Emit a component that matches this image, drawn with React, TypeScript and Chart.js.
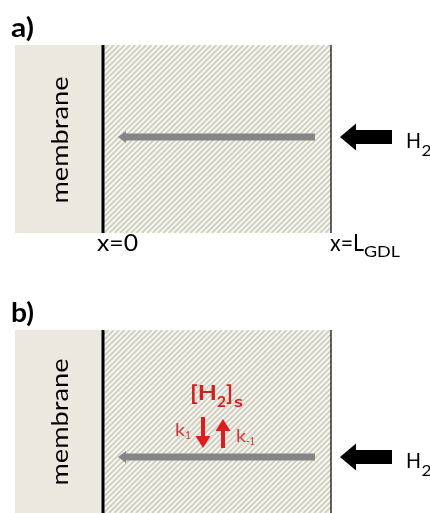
import React, { useEffect, useRef } from "react";
import { Chart, registerables } from "chart.js";

Chart.register(...registerables);

// ---- Diagram values (diagram units = canvas units, y grows downward) ----
const panelLabels = ["a)", "b)"];
const panelLabelY = [37, 322];
const panelTop = [45, 330];
const panelBottom = [233, 513];
const membraneLabelY = [140, 422];
const fluxY = [137, 457];
const membraneX = [15, 103]; // membrane left edge, membrane/GDL interface
const gdlX = [103, 331]; // x = 0, x = L_GDL
const fluxX = [118, 315]; // grey diffusion arrow: tip, tail
const inletX = [340, 392]; // black inlet arrow: tip, tail
const boundaryLabels = ["x=0", "x=L"];
const boundarySub = ["", "GDL"];
const speciesLabel = "H";
const speciesSub = "2";
const surfaceLabel = ["[H", "2", "]", "s"];
const rateLabels = ["k", "1", "k", "-1"];
const rateArrowX = [203, 223]; // forward (down), backward (up)
const rateArrowY = [417, 448]; // top, bottom

const FONT = "Lato, 'Open Sans', sans-serif";

function App() {
  const ref = useRef<HTMLCanvasElement | null>(null);

  useEffect(() => {
    const canvas = ref.current;
    if (!canvas) return;

    const fitText = (
      ctx: CanvasRenderingContext2D,
      text: string,
      x: number,
      y: number,
      targetW: number
    ) => {
      const w = ctx.measureText(text).width;
      const sx = w > 0 ? Math.min(1.4, Math.max(0.7, targetW / w)) : 1;
      ctx.save();
      ctx.translate(x, y);
      ctx.scale(sx, 1);
      ctx.fillText(text, 0, 0);
      ctx.restore();
      return w * sx;
    };

    const backgroundPlugin = {
      id: "diagramBackground",
      beforeDatasetsDraw(chart: any) {
        const { ctx } = chart;
        const sx = chart.scales.x;
        const sy = chart.scales.y;
        for (let p = 0; p < panelTop.length; p++) {
          const top = sy.getPixelForValue(panelTop[p]);
          const bot = sy.getPixelForValue(panelBottom[p]);
          const mx0 = sx.getPixelForValue(membraneX[0]);
          const mx1 = sx.getPixelForValue(membraneX[1]);
          const gx0 = sx.getPixelForValue(gdlX[0]);
          const gx1 = sx.getPixelForValue(gdlX[1]);
          ctx.save();
          ctx.fillStyle = "#ebe8df";
          ctx.fillRect(mx0, top, mx1 - mx0, bot - top);
          ctx.fillStyle = "#f7f6ef";
          ctx.fillRect(gx0, top, gx1 - gx0, bot - top);
          ctx.beginPath();
          ctx.rect(gx0, top, gx1 - gx0, bot - top);
          ctx.clip();
          ctx.strokeStyle = "#cfcec3";
          ctx.lineWidth = 1.8;
          const h = bot - top;
          for (let x = gx0 - h; x < gx1 + 10; x += 5.4) {
            ctx.beginPath();
            ctx.moveTo(x, bot);
            ctx.lineTo(x + h, top);
            ctx.stroke();
          }
          ctx.restore();
        }
      },
      afterDatasetsDraw(chart: any) {
        const { ctx } = chart;
        const sx = chart.scales.x;
        const sy = chart.scales.y;
        ctx.save();
        for (let p = 0; p < panelTop.length; p++) {
          const fy = sy.getPixelForValue(fluxY[p]);
          // grey arrow head
          const tip = sx.getPixelForValue(fluxX[0]);
          ctx.fillStyle = "#858585";
          ctx.beginPath();
          ctx.moveTo(tip, fy);
          ctx.lineTo(tip + 8, fy - 6);
          ctx.lineTo(tip + 8, fy + 6);
          ctx.closePath();
          ctx.fill();

          // black inlet arrow
          const bt = sx.getPixelForValue(inletX[0]);
          const bb = sx.getPixelForValue(inletX[1]);
          const hb = bt + 16;
          ctx.fillStyle = "#000";
          ctx.beginPath();
          ctx.moveTo(bt, fy);
          ctx.lineTo(hb, fy - 13.5);
          ctx.lineTo(hb, fy - 7);
          ctx.lineTo(bb, fy - 7);
          ctx.lineTo(bb, fy + 7);
          ctx.lineTo(hb, fy + 7);
          ctx.lineTo(hb, fy + 13.5);
          ctx.closePath();
          ctx.fill();

          // H2 label
          ctx.fillStyle = "#000";
          ctx.textAlign = "left";
          ctx.textBaseline = "alphabetic";
          ctx.font = `400 22px ${FONT}`;
          const hx = bb + 14;
          const hy = fy + 11;
          const hw = fitText(ctx, speciesLabel, hx, hy, 15);
          ctx.font = `400 16px ${FONT}`;
          fitText(ctx, speciesSub, hx + hw + 0.5, hy + 8, 10);

          // panel label
          ctx.font = `700 26px ${FONT}`;
          fitText(ctx, panelLabels[p], 11, sy.getPixelForValue(panelLabelY[p]), 23);

          // membrane label (rotated)
          ctx.save();
          ctx.translate(
            sx.getPixelForValue((membraneX[0] + membraneX[1]) / 2) + 1,
            sy.getPixelForValue(membraneLabelY[p])
          );
          ctx.rotate(-Math.PI / 2);
          ctx.font = `400 24px ${FONT}`;
          ctx.textAlign = "left";
          ctx.textBaseline = "middle";
          const mw = ctx.measureText("membrane").width;
          const msx = 127 / mw;
          ctx.scale(msx, 1);
          ctx.fillText("membrane", -mw / 2, 0);
          ctx.restore();
        }

        // boundary labels under panel a
        ctx.fillStyle = "#000";
        ctx.textAlign = "left";
        ctx.textBaseline = "alphabetic";
        const by = sy.getPixelForValue(panelBottom[0]) + 18;
        ctx.font = `400 23px ${FONT}`;
        fitText(ctx, boundaryLabels[0], sx.getPixelForValue(gdlX[0]) - 6, by, 41);
        const lw = fitText(ctx, boundaryLabels[1], sx.getPixelForValue(gdlX[1]) - 1, by, 34);
        ctx.font = `400 16px ${FONT}`;
        fitText(ctx, boundarySub[1], sx.getPixelForValue(gdlX[1]) - 1 + lw, by + 6, 36);

        // surface species [H2]s
        ctx.fillStyle = "#d21f1f";
        ctx.font = `700 21px ${FONT}`;
        let cx = sx.getPixelForValue(190);
        const cy = sy.getPixelForValue(400);
        cx += fitText(ctx, surfaceLabel[0], cx, cy, 27);
        ctx.font = `700 15px ${FONT}`;
        cx += fitText(ctx, surfaceLabel[1], cx, cy + 7, 9);
        ctx.font = `700 21px ${FONT}`;
        cx += fitText(ctx, surfaceLabel[2], cx, cy, 7) + 1;
        ctx.font = `700 15px ${FONT}`;
        fitText(ctx, surfaceLabel[3], cx, cy + 7, 9);

        // red rate arrows
        ctx.fillStyle = "#dd1d1d";
        ctx.strokeStyle = "#dd1d1d";
        const ay0 = sy.getPixelForValue(rateArrowY[0]);
        const ay1 = sy.getPixelForValue(rateArrowY[1]);
        // down arrow
        const dx = sx.getPixelForValue(rateArrowX[0]);
        ctx.lineWidth = 4;
        ctx.beginPath();
        ctx.moveTo(dx, ay0);
        ctx.lineTo(dx, ay1 - 8);
        ctx.stroke();
        ctx.beginPath();
        ctx.moveTo(dx, ay1);
        ctx.lineTo(dx - 7.5, ay1 - 12);
        ctx.lineTo(dx + 7.5, ay1 - 12);
        ctx.closePath();
        ctx.fill();
        // up arrow
        const ux = sx.getPixelForValue(rateArrowX[1]);
        ctx.beginPath();
        ctx.moveTo(ux, ay1);
        ctx.lineTo(ux, ay0 + 10);
        ctx.stroke();
        ctx.beginPath();
        ctx.moveTo(ux, ay0 + 2);
        ctx.lineTo(ux - 7.5, ay0 + 14);
        ctx.lineTo(ux + 7.5, ay0 + 14);
        ctx.closePath();
        ctx.fill();

        // rate labels
        ctx.fillStyle = "#cf3a3a";
        ctx.font = `400 17px ${FONT}`;
        let kx = sx.getPixelForValue(175);
        const ky = sy.getPixelForValue(436);
        kx += fitText(ctx, rateLabels[0], kx, ky, 10);
        ctx.font = `400 11px ${FONT}`;
        fitText(ctx, rateLabels[1], kx, ky + 3, 6);
        ctx.font = `400 17px ${FONT}`;
        let k2 = sx.getPixelForValue(236);
        const ky2 = sy.getPixelForValue(442);
        k2 += fitText(ctx, rateLabels[2], k2, ky2, 10);
        ctx.font = `400 11px ${FONT}`;
        fitText(ctx, rateLabels[3], k2, ky2 + 3, 9);

        ctx.restore();
      },
    };

    const datasets: any[] = [];
    for (let p = 0; p < panelTop.length; p++) {
      datasets.push({
        data: [
          { x: gdlX[0], y: panelTop[p] },
          { x: gdlX[0], y: panelBottom[p] },
        ],
        borderColor: "#000000",
        borderWidth: 3,
      });
      datasets.push({
        data: [
          { x: gdlX[1], y: panelTop[p] },
          { x: gdlX[1], y: panelBottom[p] },
        ],
        borderColor: "#000000",
        borderWidth: 1.2,
      });
      datasets.push({
        data: [
          { x: fluxX[0] + 7, y: fluxY[p] },
          { x: fluxX[1], y: fluxY[p] },
        ],
        borderColor: "#858585",
        borderWidth: 7,
      });
    }

    const chart = new Chart(canvas, {
      type: "scatter",
      data: {
        datasets: datasets.map((d) => ({
          ...d,
          showLine: true,
          pointRadius: 0,
          borderCapStyle: "butt",
          fill: false,
        })),
      },
      options: {
        animation: false,
        responsive: false,
        devicePixelRatio: 1,
        layout: { padding: 0 },
        events: [],
        scales: {
          x: { type: "linear", min: 0, max: 430, display: false },
          y: { type: "linear", min: 0, max: 513, reverse: true, display: false },
        },
        plugins: {
          legend: { display: false },
          tooltip: { enabled: false },
          title: { display: false },
        },
      },
      plugins: [backgroundPlugin],
    } as any);

    return () => chart.destroy();
  }, []);

  return (
    <div
      style={{
        position: "fixed",
        left: 0,
        top: 0,
        width: 430,
        height: 513,
        background: "#ffffff",
      }}
    >
      <canvas ref={ref} width={430} height={513} style={{ display: "block" }} />
    </div>
  );
}

export default App;
